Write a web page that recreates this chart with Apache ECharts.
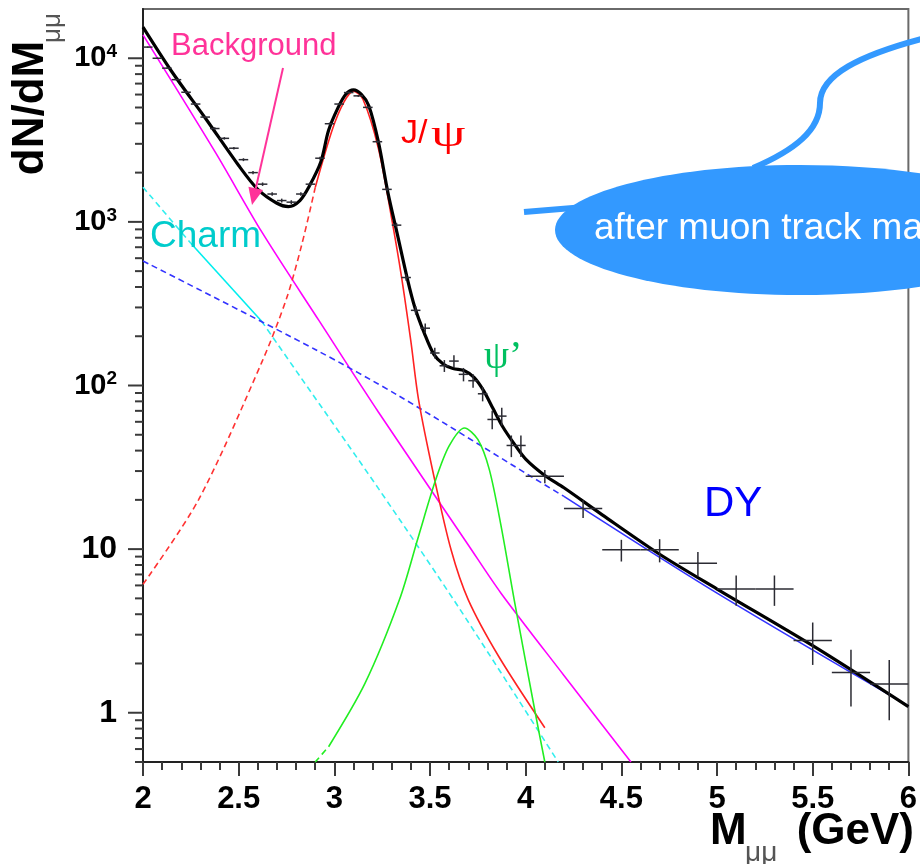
<!DOCTYPE html>
<html>
<head>
<meta charset="utf-8">
<script src="https://cdn.jsdelivr.net/npm/echarts@6/dist/echarts.min.js"></script>
<style>
  html, body { margin: 0; padding: 0; background: #ffffff; }
  #chart { width: 920px; height: 864px; }
</style>
</head>
<body>
<div id="chart"></div>
<script>
// Dimuon invariant-mass spectrum 2–6 GeV with fitted components (log scale)

// ---- measured spectrum: 0.05 GeV bins below 4 GeV, 0.2 GeV bins above ----
const FINE_BIN = 0.05;
const COARSE_BIN = 0.2;
const fineMass = [2.025, 2.075, 2.125, 2.175, 2.225, 2.275, 2.325, 2.375, 2.425, 2.475,
                  2.525, 2.575, 2.625, 2.675, 2.725, 2.775, 2.825, 2.875, 2.925, 2.975,
                  3.025, 3.075, 3.125, 3.175, 3.225, 3.275, 3.325, 3.375, 3.425, 3.475,
                  3.525, 3.575, 3.625, 3.675, 3.725, 3.775, 3.825, 3.875, 3.925, 3.975];
const fineCounts = [11700, 10000, 8700, 7400, 6200, 5250, 4370, 3720, 3240, 2820,
                    2400, 2000, 1700, 1480, 1350, 1320, 1480, 1700, 2450, 3980,
                    5250, 6170, 5890, 5010, 3090, 1580, 955, 457, 288, 224,
                    158, 132, 141, 117, 107, 89, 62, 65, 43, 43];
const fineErrors = [110, 100, 95, 85, 80, 72, 66, 61, 57, 53,
                    49, 45, 41, 38, 37, 36, 38, 41, 50, 63,
                    72, 79, 77, 71, 56, 40, 31, 21, 17, 15,
                    12, 11, 12, 11, 10, 9, 8, 8, 6.5, 6.5];
const coarseMass = [4.1, 4.3, 4.5, 4.7, 4.9, 5.1, 5.3, 5.5, 5.7, 5.9];
const coarseCounts = [27.9, 17.7, 9.9, 9.9, 8.2, 5.7, 5.7, 2.76, 1.76, 1.5];
const coarseErrors = [2.6, 2.2, 1.5, 1.6, 1.4, 1.2, 1.2, 0.8, 0.67, 0.6];

// ---- fit curves ----
const totalMass = [2.00, 2.15, 2.33, 2.50, 2.60, 2.70, 2.76, 2.82, 2.87, 2.93, 2.97, 3.02, 3.06,
                   3.10, 3.14, 3.18, 3.23, 3.28, 3.33, 3.38, 3.42, 3.47, 3.52, 3.57, 3.62, 3.68,
                   3.73, 3.78, 3.83, 3.88, 3.94, 4.00, 4.10, 4.20, 4.40, 4.70, 5.00, 5.50, 6.00];
const totalValues = [15500, 8300, 4240, 2210, 1580, 1300, 1240, 1350, 1660, 2340, 3630, 5010, 6030,
                     6400, 6030, 5130, 3090, 1510, 832, 457, 302, 209, 155, 135, 127, 123,
                     112, 93, 72, 56, 44, 35.5, 28.2, 23.7, 16.2, 9.3, 5.7, 2.57, 1.09];

const backgroundMass = [2.00, 2.38, 2.62, 2.92, 3.23, 3.70, 3.87, 4.20, 4.55];
const backgroundValues = [13900, 2640, 871, 249, 68.9, 10.6, 5.4, 1.69, 0.5];

const charmMass = [2.00, 2.25, 2.62, 2.82, 3.23, 3.65, 4.17];
const charmValues = [1630, 740, 247, 114, 23.5, 4.4, 0.5];
const charmFitRange = [2.25, 2.62];

const dyMass = [2.00, 2.90, 3.34, 4.03, 4.20, 5.00, 6.00];
const dyValues = [577, 166, 86, 27.7, 21, 5.38, 1.1];
const dyFitFrom = 4.20;

const jpsiMass = [2.00, 2.29, 2.62, 2.75, 2.83, 2.90, 2.99, 3.05, 3.10, 3.15, 3.23, 3.30,
                  3.35, 3.40, 3.44, 3.52, 3.61, 3.70, 3.86, 4.10];
const jpsiValues = [6.1, 20, 138, 340, 728, 1620, 3680, 5400, 6300, 5600, 2820, 1040,
                    470, 186, 82, 28, 9.9, 4.9, 2.2, 0.81];
const jpsiFitFrom = 2.90;

const psiPMass = [2.90, 2.97, 3.16, 3.34, 3.44, 3.53, 3.60, 3.68, 3.75, 3.81, 3.87, 3.94, 4.05, 4.10];
const psiPValues = [0.5, 0.62, 1.51, 4.9, 12, 26.6, 42.7, 55, 46.8, 30.6, 14.1, 4.9, 1.0, 0.5];
const psiPFitFrom = 2.97;

// ---- axes ----
const X_MIN = 2, X_MAX = 6, X_STEP = 0.5;
const Y_MIN = 0.5, Y_MAX = 20000;
const yMajorTicks = [1, 10, 100, 1000, 10000];
const yMinorTicks = [];
for (let decade = 0.1; decade <= 1000; decade *= 10) {
  for (let m = 2; m <= 9; m++) {
    const v = +(m * decade).toPrecision(3);
    if (v >= Y_MIN && v <= Y_MAX) yMinorTicks.push(v);
  }
}

const FONT = '"Liberation Sans", Arial, Helvetica, sans-serif';
const SERIF = '"Liberation Serif", "Times New Roman", serif';

function pairs(xs, ys) { return xs.map((x, i) => [x, ys[i]]); }
function between(xs, ys, lo, hi) {
  return pairs(xs, ys).filter(p => p[0] >= lo - 1e-9 && p[0] <= hi + 1e-9);
}
function curve(data, color, dashed, width, z) {
  return {
    type: 'line', data, symbol: 'none', smooth: 0.3, clip: true, silent: true,
    lineStyle: { color, width, type: dashed ? [6, 4] : 'solid' },
    z, animation: false
  };
}

const spectrum = pairs(fineMass, fineCounts).map((p, i) => [p[0], p[1], FINE_BIN / 2, fineErrors[i]])
  .concat(pairs(coarseMass, coarseCounts).map((p, i) => [p[0], p[1], COARSE_BIN / 2, coarseErrors[i]]));

function renderCross(params, api) {
  const x = api.value(0), y = api.value(1), hw = api.value(2), err = api.value(3);
  const l = api.coord([x - hw, y]);
  const r = api.coord([x + hw, y]);
  const t = api.coord([x, y + err]);
  const b = api.coord([x, Math.max(y - err, 1e-3)]);
  const st = { stroke: '#2b2b33', lineWidth: 1.5 };
  return {
    type: 'group',
    children: [
      { type: 'line', shape: { x1: l[0], y1: l[1], x2: r[0], y2: r[1] }, style: st },
      { type: 'line', shape: { x1: t[0], y1: t[1], x2: b[0], y2: b[1] }, style: st }
    ]
  };
}

// annotation arrow from the "Background" label down to its curve
const arrowFrom = [283, 68], arrowTip = [252, 205];
const adx = arrowTip[0] - arrowFrom[0], ady = arrowTip[1] - arrowFrom[1];
const alen = Math.hypot(adx, ady);
const ux = adx / alen, uy = ady / alen;
const headLen = 17, headHalf = 7.5;
const baseC = [arrowTip[0] - ux * headLen, arrowTip[1] - uy * headLen];
const arrowHead = [arrowTip, [baseC[0] + uy * headHalf, baseC[1] - ux * headHalf],
                   [baseC[0] - uy * headHalf, baseC[1] + ux * headHalf]];

const PINK = '#ff3399', CALLOUT = '#3399ff';
const TICK = { color: '#3a3a3a', width: 2 };

const annotations = [
  { type: 'text', x: 171, y: 46, z: 20, style: { text: 'Background', fill: PINK, font: '31px ' + FONT, verticalAlign: 'middle' } },
  { type: 'line', z: 20, shape: { x1: arrowFrom[0], y1: arrowFrom[1], x2: baseC[0], y2: baseC[1] }, style: { stroke: PINK, lineWidth: 2 } },
  { type: 'polygon', z: 20, shape: { points: arrowHead }, style: { fill: PINK } },
  { type: 'text', x: 150, y: 237, z: 20, style: { text: 'Charm', fill: '#00cccc', font: '37px ' + FONT, verticalAlign: 'middle' } },
  { type: 'text', x: 401, y: 134, z: 20, style: { text: 'J/', fill: '#ff0000', font: '34px ' + FONT, verticalAlign: 'middle' } },
  { type: 'text', x: 431, y: 136, scaleX: 1.45, z: 20, style: { text: 'ψ', fill: '#ff0000', font: '38px ' + SERIF, verticalAlign: 'middle' } },
  { type: 'text', x: 484, y: 357, z: 20, style: { text: 'ψ’', fill: '#00c060', font: '40px ' + SERIF, verticalAlign: 'middle' } },
  { type: 'text', x: 704, y: 504, z: 20, style: { text: 'DY', fill: '#0000ff', font: '42px ' + FONT, verticalAlign: 'middle' } },
  // axis titles
  { type: 'text', x: 31, y: 108, rotation: Math.PI / 2, z: 20, style: { text: 'dN/dM', fill: '#000', font: 'bold 44px ' + FONT, align: 'center', verticalAlign: 'middle' } },
  { type: 'text', x: 53, y: 28, rotation: Math.PI / 2, z: 20, style: { text: 'μμ', fill: '#555', font: '26px ' + FONT, align: 'center', verticalAlign: 'middle' } },
  { type: 'text', x: 710, y: 832, z: 20, style: { text: 'M', fill: '#000', font: 'bold 44px ' + FONT, verticalAlign: 'middle' } },
  { type: 'text', x: 745, y: 853, z: 20, style: { text: 'μμ', fill: '#555', font: '28px ' + FONT, verticalAlign: 'middle' } },
  { type: 'text', x: 914, y: 832, z: 20, style: { text: '(GeV)', fill: '#000', font: 'bold 44px ' + FONT, align: 'right', verticalAlign: 'middle' } },
  // callout
  { type: 'bezierCurve', z: 30, shape: { x1: 753, y1: 168, cpx1: 795, cpy1: 150, cpx2: 820, cpy2: 130, x2: 820, y2: 103 }, style: { fill: null, stroke: CALLOUT, lineWidth: 6 } },
  { type: 'bezierCurve', z: 30, shape: { x1: 820, y1: 103, cpx1: 820, cpy1: 75, cpx2: 860, cpy2: 55, x2: 925, y2: 38 }, style: { fill: null, stroke: CALLOUT, lineWidth: 6 } },
  { type: 'line', z: 30, shape: { x1: 524, y1: 212, x2: 585, y2: 207 }, style: { stroke: CALLOUT, lineWidth: 6 } },
  { type: 'ellipse', z: 31, shape: { cx: 800, cy: 230, rx: 245, ry: 65 }, style: { fill: CALLOUT } },
  { type: 'text', x: 594, y: 229, z: 32, style: { text: 'after muon track matching', fill: '#ffffff', font: '37px ' + FONT, verticalAlign: 'middle' } }
];

const option = {
  backgroundColor: '#ffffff',
  animation: false,
  grid: { left: 143, right: 9, top: 9, bottom: 102, show: true, borderColor: '#6a6a6a', borderWidth: 2 },
  xAxis: {
    type: 'value', min: X_MIN, max: X_MAX, interval: X_STEP,
    axisLine: { show: true, lineStyle: { color: '#222', width: 2 } },
    axisTick: { show: true, inside: false, length: 14, lineStyle: TICK },
    minorTick: { show: true, splitNumber: 5, length: 8, lineStyle: TICK },
    splitLine: { show: false },
    axisLabel: { margin: 22, fontSize: 31, fontWeight: 'bold', color: '#000', fontFamily: FONT }
  },
  yAxis: {
    type: 'log', logBase: 10, min: Y_MIN, max: Y_MAX, position: 'left',
    axisLine: { show: true, lineStyle: { color: '#222', width: 2 } },
    axisTick: { show: false },
    splitLine: { show: false },
    axisLabel: {
      margin: 26, customValues: yMajorTicks, color: '#000',
      formatter: v => {
        const e = Math.round(Math.log10(v));
        return e <= 1 ? '{p|' + Math.round(v) + '}' : '{b|10}{s|' + e + '}';
      },
      rich: {
        p: { fontSize: 32, fontWeight: 'bold', fontFamily: FONT, color: '#000', lineHeight: 32 },
        b: { fontSize: 29, fontWeight: 'bold', fontFamily: FONT, color: '#000', lineHeight: 32 },
        s: { fontSize: 19, fontWeight: 'bold', fontFamily: FONT, color: '#000', lineHeight: 10, verticalAlign: 'top' }
      }
    }
  },
  series: [
    // background (magenta)
    curve(pairs(backgroundMass, backgroundValues), '#ff00ff', false, 1.6, 3),
    // open charm: dashed outside the fit range, solid inside
    curve(between(charmMass, charmValues, X_MIN, charmFitRange[0]), '#33eeee', true, 1.6, 3),
    curve(between(charmMass, charmValues, charmFitRange[0], charmFitRange[1]), '#00eeee', false, 1.6, 3),
    curve(between(charmMass, charmValues, charmFitRange[1], X_MAX), '#33eeee', true, 1.6, 3),
    // Drell-Yan
    curve(between(dyMass, dyValues, X_MIN, dyFitFrom), '#3333ff', true, 1.6, 3),
    curve(between(dyMass, dyValues, dyFitFrom, X_MAX), '#3333ff', false, 1.6, 3),
    // J/psi
    curve(between(jpsiMass, jpsiValues, X_MIN, jpsiFitFrom), '#ff3333', true, 1.6, 4),
    curve(between(jpsiMass, jpsiValues, jpsiFitFrom, X_MAX), '#ff2222', false, 1.6, 4),
    // psi'
    curve(between(psiPMass, psiPValues, X_MIN, psiPFitFrom), '#22ee22', true, 1.6, 4),
    curve(between(psiPMass, psiPValues, psiPFitFrom, X_MAX), '#22ee22', false, 1.6, 4),
    // total fit
    curve(pairs(totalMass, totalValues), '#000000', false, 3.2, 6),
    // data points with error bars
    {
      type: 'custom', renderItem: renderCross, data: spectrum, clip: true, silent: true, z: 7,
      encode: { x: 0, y: 1 }
    }
  ]
};

const chart = echarts.init(document.getElementById('chart'), null, { renderer: 'canvas' });
chart.setOption(option);

// outward y ticks placed through the log axis: long at decades, short at 2..9 × 10^n
const axisX = chart.convertToPixel({ xAxisIndex: 0 }, X_MIN);
function yTick(value, len, i) {
  const y = chart.convertToPixel({ yAxisIndex: 0 }, value);
  return { type: 'line', id: 'ytick' + i, z: 50, shape: { x1: axisX - len, y1: y, x2: axisX, y2: y },
           style: { stroke: TICK.color, lineWidth: TICK.width } };
}
const yTickMarks = yMajorTicks.map((v, i) => yTick(v, 15, 'M' + i))
  .concat(yMinorTicks.map((v, i) => yTick(v, 8, 'm' + i)));
chart.setOption({ graphic: yTickMarks.concat(annotations) });
</script>
</body>
</html>
